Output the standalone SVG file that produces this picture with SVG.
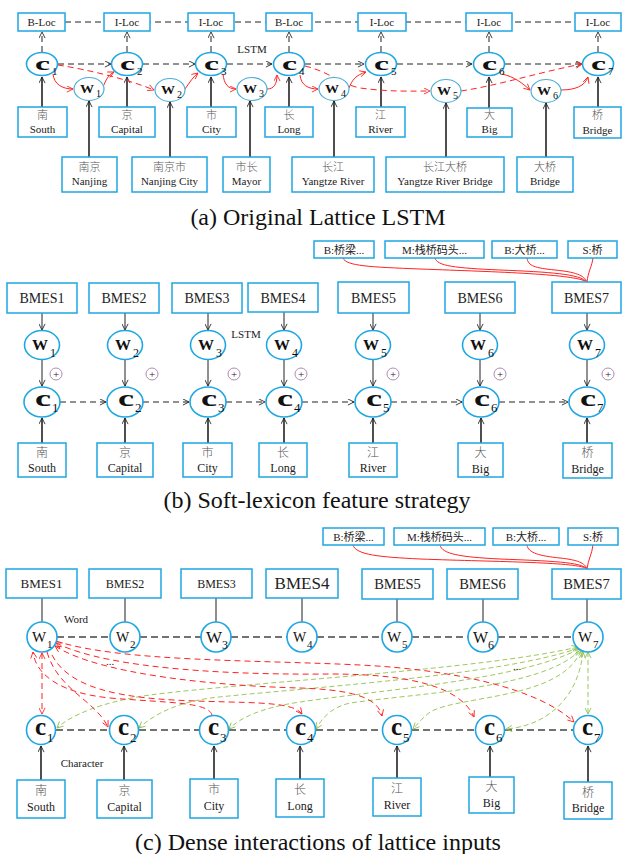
<svg xmlns="http://www.w3.org/2000/svg" width="622" height="854" viewBox="0 0 622 854">
<style>
.box{fill:#fff;stroke:#1ea7e4;stroke-width:1.5}
.nd{fill:#fff;stroke:#1ea7e4;stroke-width:1.6}
.nw{fill:#fff;stroke:#4aaed6;stroke-width:1.2}
.t{font-family:"Liberation Serif","Noto Sans CJK SC",serif;fill:#222;text-anchor:middle}
.cn{font-family:"Noto Sans CJK SC",sans-serif;fill:#555;text-anchor:middle;font-weight:300}
.g{font-family:"Liberation Serif",serif;fill:#111}
.cap{font-family:"Liberation Serif",serif;fill:#111;font-size:24px;text-anchor:middle}
.k{stroke:#222;fill:none;stroke-width:1}
.kt{stroke:#222;fill:none;stroke-width:1.6}
.d{stroke-dasharray:6 4}
.dg{stroke:#444;fill:none;stroke-width:1.3;stroke-dasharray:7 4}
.r{stroke:#f22;fill:none;stroke-width:1}
.rd{stroke:#f22;fill:none;stroke-width:1;stroke-dasharray:6 4}
.gd{stroke:#9cc95c;fill:none;stroke-width:1;stroke-dasharray:5 3}
.pl{fill:#fff;stroke:#b58ab5;stroke-width:1}
</style>
<defs>
<marker id="ak" viewBox="0 0 8 8" refX="7.5" refY="4" markerWidth="7" markerHeight="7" orient="auto-start-reverse" markerUnits="userSpaceOnUse"><path d="M0.5,0.5 L7.5,4 L0.5,7.5" fill="none" stroke="#222" stroke-width="1"/></marker>
<marker id="ar" viewBox="0 0 8 8" refX="7.5" refY="4" markerWidth="7" markerHeight="7" orient="auto-start-reverse" markerUnits="userSpaceOnUse"><path d="M0.5,0.5 L7.5,4 L0.5,7.5" fill="none" stroke="#f22" stroke-width="1"/></marker>
<marker id="ag" viewBox="0 0 8 8" refX="7.5" refY="4" markerWidth="7" markerHeight="7" orient="auto-start-reverse" markerUnits="userSpaceOnUse"><path d="M0.5,0.5 L7.5,4 L0.5,7.5" fill="none" stroke="#8fbf4e" stroke-width="1"/></marker>
</defs>

<g id="connectors">
<!-- (a) -->
<path class="k d" d="M65,22 H575"/>
<g class="k d" marker-end="url(#ak)">
<path d="M42,52 V32"/><path d="M127,52 V32"/><path d="M211,52 V32"/><path d="M289,52 V32"/><path d="M381,52 V32"/><path d="M489,52 V32"/><path d="M598,52 V32"/>
<path d="M58,64 H111"/><path d="M143,64 H195"/><path d="M227,64 H272"/><path d="M305,64 H364"/><path d="M397,64 H472"/><path d="M505,64 H582"/>
</g>
<g class="kt" marker-end="url(#ak)">
<path d="M42,107 V77"/><path d="M127,107 V77"/><path d="M211,107 V77"/><path d="M289,107 V77"/><path d="M381,107 V77"/><path d="M489,108 V77"/><path d="M598,107 V77"/>
<path d="M89,157 V101"/><path d="M170,157 V102"/><path d="M250,157 V101"/><path d="M334,157 V101"/><path d="M446,157 V103"/><path d="M546,157 V103"/>
</g>
<g marker-end="url(#ar)">
<path class="r" d="M53,74 C54,84 62,89 73,89"/>
<path class="r" d="M103,87 C106,80 108,75 114,72"/>
<path class="rd" d="M58,65 C90,70 130,80 154,90"/>
<path class="r" d="M185,89 C190,82 193,77 198,73"/>
<path class="r" d="M223,74 C224,84 228,89 236,89"/>
<path class="r" d="M267,89 C274,89 277,84 277,75"/>
<path class="r" d="M300,75 C301,85 308,89 318,89"/>
<path class="rd" d="M305,66 C330,72 340,84 360,88 C390,92 410,91 430,91"/>
<path class="r" d="M349,88 C352,80 356,75 366,72"/>
<path class="rd" d="M461,91 C500,85 540,72 582,64"/>
<path class="r" d="M502,74 C515,77 522,83 530,90"/>
<path class="r" d="M561,90 C575,90 585,86 588,77"/>
</g>
<!-- (b) -->
<g class="k" marker-end="url(#ak)">
<path d="M42,313 V330"/><path d="M125,313 V330"/><path d="M208,313 V330"/><path d="M284,312 V330"/><path d="M373,313 V330"/><path d="M480,313 V330"/><path d="M587,313 V330"/>
<path d="M42,360 V386"/><path d="M125,360 V386"/><path d="M208,360 V386"/><path d="M284,360 V386"/><path d="M373,360 V386"/><path d="M480,360 V386"/><path d="M587,360 V386"/>
</g>
<g class="k d" marker-end="url(#ak)">
<path d="M60,402 H106"/><path d="M143,402 H189"/><path d="M226,402 H265"/><path d="M302,402 H354"/><path d="M391,402 H462"/><path d="M499,402 H568"/>
</g>
<g class="kt" marker-end="url(#ak)">
<path d="M42,443 V418"/><path d="M125,443 V418"/><path d="M208,443 V418"/><path d="M284,443 V418"/><path d="M373,443 V418"/><path d="M481,443 V418"/><path d="M587,443 V418"/>
</g>
<g class="r">
<path d="M343,258 C346,266 370,267 420,269 C500,272 575,274 587,282"/>
<path d="M435,258 C437,266 455,268 500,270 C550,272 580,274 587,282"/>
<path d="M527,258 C528,266 535,268 555,270 C575,272 584,275 587,282"/>
<path d="M593,258 C592,266 588,272 587,282"/>
</g>
<!-- (c) -->
<g class="r">
<path d="M353,545 C356,555 380,557 420,559 C500,562 580,562 587,569"/>
<path d="M440,545 C442,554 460,557 500,559 C550,561 582,562 587,569"/>
<path d="M527,545 C528,553 540,556 560,558 C578,560 585,563 587,569"/>
<path d="M593,545 C592,554 588,560 587,569"/>
</g>
<g stroke="#444" stroke-width="1.2">
<path d="M42,598 V622"/><path d="M125,598 V622"/><path d="M216,598 V622"/><path d="M302,598 V622"/><path d="M397,599 V622"/><path d="M483,599 V622"/><path d="M587,599 V622"/>
</g>
<g class="dg">
<path d="M57,637 H110"/><path d="M140,637 H201"/><path d="M231,637 H287"/><path d="M317,637 H382"/><path d="M412,637 H468"/><path d="M498,637 H573"/>
<path d="M56,730 H109"/><path d="M139,730 H199"/><path d="M229,730 H286"/><path d="M316,730 H382"/><path d="M412,730 H475"/><path d="M505,730 H573"/>
</g>
<g class="kt" marker-end="url(#ak)">
<path d="M41,780 V746"/><path d="M124,780 V746"/><path d="M214,779 V746"/><path d="M300,779 V746"/><path d="M397,778 V746"/><path d="M490,777 V746"/><path d="M588,782 V746"/>
</g>
<g class="gd" marker-end="url(#ag)">
<path d="M588,652 V714" marker-start="url(#ag)"/>
<path d="M583,652 C578,700 545,726 506,729" marker-start="url(#ag)"/>
<path d="M581,651 C560,700 460,695 430,712 C420,720 416,726 413,729" marker-start="url(#ag)"/>
<path d="M580,650 C545,688 420,693 350,703 C328,708 320,722 316,729"/>
<path d="M579,649 C520,680 380,690 300,702 C260,708 240,718 229,729" marker-start="url(#ag)"/>
<path d="M579,648 C500,676 300,688 210,698 C170,704 150,718 139,728"/>
<path d="M578,647 C480,670 250,682 150,695 C100,702 70,716 57,728" marker-start="url(#ag)"/>
</g>
<g class="rd" marker-end="url(#ar)">
<path d="M42,653 V714" marker-start="url(#ar)"/>
<path d="M47,652 C58,690 95,700 108,727"/>
<path d="M212,715 C208,702 170,703 110,698 C60,693 36,675 33,652"/>
<path d="M52,655 C75,700 160,700 230,702 C275,703 295,705 302,714"/>
<path d="M55,646 C100,675 220,686 300,688 C360,690 378,700 382,716" marker-start="url(#ar)"/>
<path d="M56,643 C110,670 240,675 330,674 C420,674 462,690 474,717" marker-start="url(#ar)"/>
<path d="M56,641 C120,662 260,660 360,665 C460,670 540,690 574,722"/>
</g>
</g>

<!-- ===== (a) nodes ===== -->
<g id="a-loc1"><rect class="box" x="18" y="13" width="47" height="18"/><text class="t" x="41.5" y="26" font-size="11">B-Loc</text></g>
<g id="a-loc2"><rect class="box" x="104" y="13" width="46" height="18"/><text class="t" x="127" y="26" font-size="11">I-Loc</text></g>
<g id="a-loc3"><rect class="box" x="188" y="13" width="46" height="18"/><text class="t" x="211" y="26" font-size="11">I-Loc</text></g>
<g id="a-loc4"><rect class="box" x="266" y="13" width="46" height="18"/><text class="t" x="289" y="26" font-size="11">B-Loc</text></g>
<g id="a-loc5"><rect class="box" x="358" y="13" width="48" height="18"/><text class="t" x="382" y="26" font-size="11">I-Loc</text></g>
<g id="a-loc6"><rect class="box" x="466" y="13" width="46" height="18"/><text class="t" x="489" y="26" font-size="11">I-Loc</text></g>
<g id="a-loc7"><rect class="box" x="575" y="13" width="46" height="18"/><text class="t" x="598" y="26" font-size="11">I-Loc</text></g>

<g id="a-c1"><ellipse class="nd" cx="42" cy="64" rx="15.5" ry="11.5"/><text class="g" x="35" y="70" font-size="18" font-weight="bold" textLength="15" lengthAdjust="spacingAndGlyphs">c</text><text class="g" x="52" y="75" font-size="11">1</text></g>
<g id="a-c2"><ellipse class="nd" cx="127" cy="64" rx="15.5" ry="11.5"/><text class="g" x="120" y="70" font-size="18" font-weight="bold" textLength="15" lengthAdjust="spacingAndGlyphs">c</text><text class="g" x="137" y="75" font-size="11">2</text></g>
<g id="a-c3"><ellipse class="nd" cx="211" cy="64" rx="15.5" ry="11.5"/><text class="g" x="204" y="70" font-size="18" font-weight="bold" textLength="15" lengthAdjust="spacingAndGlyphs">c</text><text class="g" x="221" y="75" font-size="11">3</text></g>
<g id="a-c4"><ellipse class="nd" cx="289" cy="64" rx="15.5" ry="11.5"/><text class="g" x="282" y="70" font-size="18" font-weight="bold" textLength="15" lengthAdjust="spacingAndGlyphs">c</text><text class="g" x="299" y="75" font-size="11">4</text></g>
<g id="a-c5"><ellipse class="nd" cx="381" cy="64" rx="15.5" ry="11.5"/><text class="g" x="374" y="70" font-size="18" font-weight="bold" textLength="15" lengthAdjust="spacingAndGlyphs">c</text><text class="g" x="391" y="75" font-size="11">5</text></g>
<g id="a-c6"><ellipse class="nd" cx="489" cy="64" rx="15.5" ry="11.5"/><text class="g" x="482" y="70" font-size="18" font-weight="bold" textLength="15" lengthAdjust="spacingAndGlyphs">c</text><text class="g" x="499" y="75" font-size="11">6</text></g>
<g id="a-c7"><ellipse class="nd" cx="598" cy="64" rx="15.5" ry="11.5"/><text class="g" x="591" y="70" font-size="18" font-weight="bold" textLength="15" lengthAdjust="spacingAndGlyphs">c</text><text class="g" x="608" y="75" font-size="11">7</text></g>

<g id="a-w1"><ellipse class="nw" cx="89" cy="89" rx="15" ry="11.5"/><text class="g" x="80" y="93" font-size="12" font-weight="bold" textLength="14" lengthAdjust="spacingAndGlyphs">W</text><text class="g" x="96" y="97" font-size="10">1</text></g>
<g id="a-w2"><ellipse class="nw" cx="170" cy="90" rx="15" ry="11.5"/><text class="g" x="161" y="94" font-size="12" font-weight="bold" textLength="14" lengthAdjust="spacingAndGlyphs">W</text><text class="g" x="177" y="98" font-size="10">2</text></g>
<g id="a-w3"><ellipse class="nw" cx="252" cy="89" rx="15" ry="11.5"/><text class="g" x="243" y="93" font-size="12" font-weight="bold" textLength="14" lengthAdjust="spacingAndGlyphs">W</text><text class="g" x="259" y="97" font-size="10">3</text></g>
<g id="a-w4"><ellipse class="nw" cx="334" cy="89" rx="15" ry="11.5"/><text class="g" x="325" y="93" font-size="12" font-weight="bold" textLength="14" lengthAdjust="spacingAndGlyphs">W</text><text class="g" x="341" y="97" font-size="10">4</text></g>
<g id="a-w5"><ellipse class="nw" cx="446" cy="91" rx="15" ry="11.5"/><text class="g" x="437" y="95" font-size="12" font-weight="bold" textLength="14" lengthAdjust="spacingAndGlyphs">W</text><text class="g" x="453" y="99" font-size="10">5</text></g>
<g id="a-w6"><ellipse class="nw" cx="546" cy="91" rx="15" ry="11.5"/><text class="g" x="537" y="95" font-size="12" font-weight="bold" textLength="14" lengthAdjust="spacingAndGlyphs">W</text><text class="g" x="553" y="99" font-size="10">6</text></g>

<g id="a-ch1"><rect class="box" x="18" y="107" width="49" height="30"/><text class="cn" x="42.5" y="119" font-size="11">南</text><text class="t" x="42.5" y="133" font-size="11">South</text></g>
<g id="a-ch2"><rect class="box" x="99" y="107" width="56" height="30"/><text class="cn" x="127" y="119" font-size="11">京</text><text class="t" x="127" y="133" font-size="11">Capital</text></g>
<g id="a-ch3"><rect class="box" x="187" y="107" width="49" height="30"/><text class="cn" x="211.5" y="119" font-size="11">市</text><text class="t" x="211.5" y="133" font-size="11">City</text></g>
<g id="a-ch4"><rect class="box" x="265" y="107" width="48" height="30"/><text class="cn" x="289" y="119" font-size="11">长</text><text class="t" x="289" y="133" font-size="11">Long</text></g>
<g id="a-ch5"><rect class="box" x="356" y="107" width="49" height="30"/><text class="cn" x="380.5" y="119" font-size="11">江</text><text class="t" x="380.5" y="133" font-size="11">River</text></g>
<g id="a-ch6"><rect class="box" x="467" y="108" width="45" height="29"/><text class="cn" x="489.5" y="119" font-size="11">大</text><text class="t" x="489.5" y="133" font-size="11">Big</text></g>
<g id="a-ch7"><rect class="box" x="574" y="107" width="47" height="31"/><text class="cn" x="597.5" y="119" font-size="11">桥</text><text class="t" x="597.5" y="134" font-size="11">Bridge</text></g>

<g id="a-wd1"><rect class="box" x="62" y="157" width="55" height="35"/><text class="cn" x="89.5" y="171" font-size="11">南京</text><text class="t" x="89.5" y="185" font-size="11">Nanjing</text></g>
<g id="a-wd2"><rect class="box" x="132" y="157" width="75" height="35"/><text class="cn" x="169.5" y="171" font-size="11">南京市</text><text class="t" x="169.5" y="185" font-size="11">Nanjing City</text></g>
<g id="a-wd3"><rect class="box" x="223" y="157" width="47" height="35"/><text class="cn" x="246.5" y="171" font-size="11">市长</text><text class="t" x="246.5" y="185" font-size="11">Mayor</text></g>
<g id="a-wd4"><rect class="box" x="292" y="157" width="82" height="35"/><text class="cn" x="333" y="171" font-size="11">长江</text><text class="t" x="333" y="185" font-size="11">Yangtze River</text></g>
<g id="a-wd5"><rect class="box" x="386" y="157" width="118" height="35"/><text class="cn" x="445" y="171" font-size="11">长江大桥</text><text class="t" x="445" y="185" font-size="11">Yangtze River Bridge</text></g>
<g id="a-wd6"><rect class="box" x="517" y="157" width="56" height="35"/><text class="cn" x="545" y="171" font-size="11">大桥</text><text class="t" x="545" y="185" font-size="11">Bridge</text></g>

<text class="t" x="252" y="53" font-size="11">LSTM</text>
<text class="cap" x="318" y="225">(a)  Original Lattice LSTM</text>

<!-- ===== (b) nodes ===== -->
<g id="b-lx1"><rect class="box" x="314" y="241" width="60" height="17"/><text class="t" x="344" y="253.5" font-size="11">B:桥梁...</text></g>
<g id="b-lx2"><rect class="box" x="385" y="241" width="99" height="17"/><text class="t" x="434.5" y="253.5" font-size="11">M:栈桥码头...</text></g>
<g id="b-lx3"><rect class="box" x="492" y="241" width="65" height="17"/><text class="t" x="524.5" y="253.5" font-size="11">B:大桥...</text></g>
<g id="b-lx4"><rect class="box" x="568" y="241" width="49" height="17"/><text class="t" x="592.5" y="253.5" font-size="11">S:桥</text></g>

<g id="b-bm1"><rect class="box" x="7" y="283" width="70" height="30"/><text class="t" x="42" y="303" font-size="14">BMES1</text></g>
<g id="b-bm2"><rect class="box" x="89" y="283" width="70" height="30"/><text class="t" x="124" y="303" font-size="14">BMES2</text></g>
<g id="b-bm3"><rect class="box" x="172" y="283" width="70" height="30"/><text class="t" x="207" y="303" font-size="14">BMES3</text></g>
<g id="b-bm4"><rect class="box" x="248" y="283" width="70" height="29"/><text class="t" x="283" y="303" font-size="14">BMES4</text></g>
<g id="b-bm5"><rect class="box" x="338" y="282" width="71" height="31"/><text class="t" x="373.5" y="303" font-size="14">BMES5</text></g>
<g id="b-bm6"><rect class="box" x="445" y="282" width="70" height="31"/><text class="t" x="480" y="303" font-size="14">BMES6</text></g>
<g id="b-bm7"><rect class="box" x="552" y="282" width="69" height="31"/><text class="t" x="586.5" y="303" font-size="14">BMES7</text></g>

<g id="b-w1"><ellipse class="nd" cx="42" cy="345" rx="17.5" ry="14.5"/><text class="g" x="32" y="350" font-size="14" font-weight="bold" textLength="16" lengthAdjust="spacingAndGlyphs">W</text><text class="g" x="50" y="357" font-size="12">1</text></g>
<g id="b-w2"><ellipse class="nd" cx="125" cy="345" rx="17.5" ry="14.5"/><text class="g" x="115" y="350" font-size="14" font-weight="bold" textLength="16" lengthAdjust="spacingAndGlyphs">W</text><text class="g" x="133" y="357" font-size="12">2</text></g>
<g id="b-w3"><ellipse class="nd" cx="208" cy="345" rx="17.5" ry="14.5"/><text class="g" x="198" y="350" font-size="14" font-weight="bold" textLength="16" lengthAdjust="spacingAndGlyphs">W</text><text class="g" x="216" y="357" font-size="12">3</text></g>
<g id="b-w4"><ellipse class="nd" cx="284" cy="345" rx="17.5" ry="14.5"/><text class="g" x="274" y="350" font-size="14" font-weight="bold" textLength="16" lengthAdjust="spacingAndGlyphs">W</text><text class="g" x="292" y="357" font-size="12">4</text></g>
<g id="b-w5"><ellipse class="nd" cx="373" cy="345" rx="17.5" ry="14.5"/><text class="g" x="363" y="350" font-size="14" font-weight="bold" textLength="16" lengthAdjust="spacingAndGlyphs">W</text><text class="g" x="381" y="357" font-size="12">5</text></g>
<g id="b-w6"><ellipse class="nd" cx="480" cy="345" rx="17.5" ry="14.5"/><text class="g" x="470" y="350" font-size="14" font-weight="bold" textLength="16" lengthAdjust="spacingAndGlyphs">W</text><text class="g" x="488" y="357" font-size="12">6</text></g>
<g id="b-w7"><ellipse class="nd" cx="587" cy="345" rx="17.5" ry="14.5"/><text class="g" x="577" y="350" font-size="14" font-weight="bold" textLength="16" lengthAdjust="spacingAndGlyphs">W</text><text class="g" x="595" y="357" font-size="12">7</text></g>

<g id="b-p1"><circle class="pl" cx="56" cy="374" r="6"/><text class="t" x="56" y="378" font-size="11" fill="#666">+</text></g>
<g id="b-p2"><circle class="pl" cx="152" cy="374" r="6"/><text class="t" x="152" y="378" font-size="11" fill="#666">+</text></g>
<g id="b-p3"><circle class="pl" cx="234" cy="374" r="6"/><text class="t" x="234" y="378" font-size="11" fill="#666">+</text></g>
<g id="b-p4"><circle class="pl" cx="301" cy="374" r="6"/><text class="t" x="301" y="378" font-size="11" fill="#666">+</text></g>
<g id="b-p5"><circle class="pl" cx="393" cy="374" r="6"/><text class="t" x="393" y="378" font-size="11" fill="#666">+</text></g>
<g id="b-p6"><circle class="pl" cx="500" cy="374" r="6"/><text class="t" x="500" y="378" font-size="11" fill="#666">+</text></g>
<g id="b-p7"><circle class="pl" cx="608" cy="374" r="6"/><text class="t" x="608" y="378" font-size="11" fill="#666">+</text></g>

<g id="b-c1"><ellipse class="nd" cx="42" cy="402" rx="18" ry="15"/><text class="g" x="35" y="406" font-size="23" font-weight="bold" textLength="16" lengthAdjust="spacingAndGlyphs">c</text><text class="g" x="52" y="412" font-size="13">1</text></g>
<g id="b-c2"><ellipse class="nd" cx="125" cy="402" rx="18" ry="15"/><text class="g" x="118" y="406" font-size="23" font-weight="bold" textLength="16" lengthAdjust="spacingAndGlyphs">c</text><text class="g" x="135" y="412" font-size="13">2</text></g>
<g id="b-c3"><ellipse class="nd" cx="208" cy="402" rx="18" ry="15"/><text class="g" x="201" y="406" font-size="23" font-weight="bold" textLength="16" lengthAdjust="spacingAndGlyphs">c</text><text class="g" x="218" y="412" font-size="13">3</text></g>
<g id="b-c4"><ellipse class="nd" cx="284" cy="402" rx="18" ry="15"/><text class="g" x="277" y="406" font-size="23" font-weight="bold" textLength="16" lengthAdjust="spacingAndGlyphs">c</text><text class="g" x="294" y="412" font-size="13">4</text></g>
<g id="b-c5"><ellipse class="nd" cx="373" cy="402" rx="18" ry="15"/><text class="g" x="366" y="406" font-size="23" font-weight="bold" textLength="16" lengthAdjust="spacingAndGlyphs">c</text><text class="g" x="383" y="412" font-size="13">5</text></g>
<g id="b-c6"><ellipse class="nd" cx="481" cy="402" rx="18" ry="15"/><text class="g" x="474" y="406" font-size="23" font-weight="bold" textLength="16" lengthAdjust="spacingAndGlyphs">c</text><text class="g" x="491" y="412" font-size="13">6</text></g>
<g id="b-c7"><ellipse class="nd" cx="587" cy="402" rx="18" ry="15"/><text class="g" x="580" y="406" font-size="23" font-weight="bold" textLength="16" lengthAdjust="spacingAndGlyphs">c</text><text class="g" x="597" y="412" font-size="13">7</text></g>

<g id="b-ch1"><rect class="box" x="18" y="443" width="48" height="34"/><text class="cn" x="42" y="457" font-size="12">南</text><text class="t" x="42" y="472" font-size="12">South</text></g>
<g id="b-ch2"><rect class="box" x="97" y="443" width="56" height="34"/><text class="cn" x="125" y="457" font-size="12">京</text><text class="t" x="125" y="472" font-size="12">Capital</text></g>
<g id="b-ch3"><rect class="box" x="183" y="443" width="49" height="34"/><text class="cn" x="207.5" y="457" font-size="12">市</text><text class="t" x="207.5" y="472" font-size="12">City</text></g>
<g id="b-ch4"><rect class="box" x="259" y="443" width="48" height="34"/><text class="cn" x="283" y="457" font-size="12">长</text><text class="t" x="283" y="472" font-size="12">Long</text></g>
<g id="b-ch5"><rect class="box" x="349" y="443" width="48" height="34"/><text class="cn" x="373" y="457" font-size="12">江</text><text class="t" x="373" y="472" font-size="12">River</text></g>
<g id="b-ch6"><rect class="box" x="458" y="443" width="45" height="34"/><text class="cn" x="480.5" y="457" font-size="12">大</text><text class="t" x="480.5" y="473" font-size="12">Big</text></g>
<g id="b-ch7"><rect class="box" x="563" y="443" width="49" height="35"/><text class="cn" x="587.5" y="457" font-size="12">桥</text><text class="t" x="587.5" y="473" font-size="12">Bridge</text></g>

<text class="t" x="246" y="338" font-size="11">LSTM</text>
<text class="cap" x="317" y="508">(b)  Soft-lexicon feature strategy</text>

<!-- ===== (c) nodes ===== -->
<g id="c-lx1"><rect class="box" x="323" y="528" width="61" height="17"/><text class="t" x="353.5" y="540.5" font-size="11">B:桥梁...</text></g>
<g id="c-lx2"><rect class="box" x="394" y="528" width="91" height="17"/><text class="t" x="439.5" y="540.5" font-size="11">M:栈桥码头...</text></g>
<g id="c-lx3"><rect class="box" x="493" y="528" width="66" height="17"/><text class="t" x="526" y="540.5" font-size="11">B:大桥...</text></g>
<g id="c-lx4"><rect class="box" x="568" y="528" width="50" height="17"/><text class="t" x="593" y="540.5" font-size="11">S:桥</text></g>

<g id="c-bm1"><rect class="box" x="6" y="569" width="71" height="29"/><text class="t" x="41.5" y="588" font-size="13">BMES1</text></g>
<g id="c-bm2"><rect class="box" x="89" y="569" width="72" height="29"/><text class="t" x="125" y="588" font-size="12">BMES2</text></g>
<g id="c-bm3"><rect class="box" x="181" y="569" width="71" height="29"/><text class="t" x="216.5" y="588" font-size="12">BMES3</text></g>
<g id="c-bm4"><rect class="box" x="266" y="569" width="72" height="29"/><text class="t" x="302" y="589" font-size="17">BMES4</text></g>
<g id="c-bm5"><rect class="box" x="362" y="569" width="71" height="30"/><text class="t" x="397.5" y="589" font-size="14.5">BMES5</text></g>
<g id="c-bm6"><rect class="box" x="447" y="569" width="71" height="30"/><text class="t" x="482.5" y="589" font-size="14.5">BMES6</text></g>
<g id="c-bm7"><rect class="box" x="552" y="569" width="69" height="30"/><text class="t" x="586.5" y="589" font-size="14.5">BMES7</text></g>

<g id="c-w1"><circle class="nd" cx="42" cy="637" r="15"/><text class="g" x="32" y="642" font-size="15">W</text><text class="g" x="47" y="648" font-size="11">1</text></g>
<g id="c-w2"><circle class="nd" cx="125" cy="637" r="15"/><text class="g" x="116" y="642" font-size="14">W</text><text class="g" x="130" y="648" font-size="11">2</text></g>
<g id="c-w3"><circle class="nd" cx="216" cy="637" r="15"/><text class="g" x="206" y="643" font-size="17">W</text><text class="g" x="222" y="649" font-size="12">3</text></g>
<g id="c-w4"><circle class="nd" cx="302" cy="637" r="15"/><text class="g" x="293" y="642" font-size="14">W</text><text class="g" x="307" y="648" font-size="11">4</text></g>
<g id="c-w5"><circle class="nd" cx="397" cy="637" r="15"/><text class="g" x="387" y="642" font-size="15">W</text><text class="g" x="402" y="648" font-size="11">5</text></g>
<g id="c-w6"><circle class="nd" cx="483" cy="637" r="15"/><text class="g" x="473" y="643" font-size="16">W</text><text class="g" x="488" y="649" font-size="12">6</text></g>
<g id="c-w7"><circle class="nd" cx="588" cy="637" r="15"/><text class="g" x="578" y="642" font-size="15">W</text><text class="g" x="593" y="648" font-size="11">7</text></g>

<g id="c-c1"><circle class="nd" cx="41" cy="730" r="14.5"/><text class="g" x="35" y="735" font-size="25" font-weight="bold">c</text><text class="g" x="47" y="742" font-size="13">1</text></g>
<g id="c-c2"><circle class="nd" cx="124" cy="730" r="14.5"/><text class="g" x="118" y="735" font-size="25" font-weight="bold">c</text><text class="g" x="130" y="742" font-size="13">2</text></g>
<g id="c-c3"><circle class="nd" cx="214" cy="730" r="14.5"/><text class="g" x="208" y="735" font-size="25" font-weight="bold">c</text><text class="g" x="220" y="742" font-size="13">3</text></g>
<g id="c-c4"><circle class="nd" cx="301" cy="730" r="14.5"/><text class="g" x="295" y="735" font-size="25" font-weight="bold">c</text><text class="g" x="307" y="742" font-size="13">4</text></g>
<g id="c-c5"><circle class="nd" cx="397" cy="730" r="14.5"/><text class="g" x="391" y="735" font-size="25" font-weight="bold">c</text><text class="g" x="403" y="742" font-size="13">5</text></g>
<g id="c-c6"><circle class="nd" cx="490" cy="730" r="14.5"/><text class="g" x="484" y="735" font-size="25" font-weight="bold">c</text><text class="g" x="496" y="742" font-size="13">6</text></g>
<g id="c-c7"><circle class="nd" cx="588" cy="730" r="14.5"/><text class="g" x="582" y="735" font-size="25" font-weight="bold">c</text><text class="g" x="594" y="742" font-size="13">7</text></g>

<g id="c-ch1"><rect class="box" x="17" y="780" width="48" height="38"/><text class="cn" x="41" y="795" font-size="12">南</text><text class="t" x="41" y="811" font-size="12">South</text></g>
<g id="c-ch2"><rect class="box" x="97" y="780" width="55" height="38"/><text class="cn" x="124.5" y="795" font-size="12">京</text><text class="t" x="124.5" y="811" font-size="12">Capital</text></g>
<g id="c-ch3"><rect class="box" x="190" y="779" width="48" height="39"/><text class="cn" x="214" y="794" font-size="12">市</text><text class="t" x="214" y="810" font-size="12">City</text></g>
<g id="c-ch4"><rect class="box" x="276" y="779" width="48" height="38"/><text class="cn" x="300" y="794" font-size="12">长</text><text class="t" x="300" y="810" font-size="12">Long</text></g>
<g id="c-ch5"><rect class="box" x="373" y="778" width="48" height="38"/><text class="cn" x="397" y="793" font-size="12">江</text><text class="t" x="397" y="809" font-size="12">River</text></g>
<g id="c-ch6"><rect class="box" x="469" y="777" width="45" height="36"/><text class="cn" x="491.5" y="791" font-size="12">大</text><text class="t" x="491.5" y="807" font-size="12">Big</text></g>
<g id="c-ch7"><rect class="box" x="564" y="782" width="48" height="37"/><text class="cn" x="588" y="797" font-size="12">桥</text><text class="t" x="588" y="812" font-size="12">Bridge</text></g>

<text class="t" x="76" y="623" font-size="11">Word</text>
<text class="t" x="82" y="767" font-size="11">Character</text>
<text class="t" x="110" y="665" font-size="11" fill="#f22">...</text>
<text class="t" x="517" y="670" font-size="11" fill="#9cc95c">...</text>
<text class="cap" x="318" y="850">(c)  Dense interactions of lattice inputs</text>
</svg>
